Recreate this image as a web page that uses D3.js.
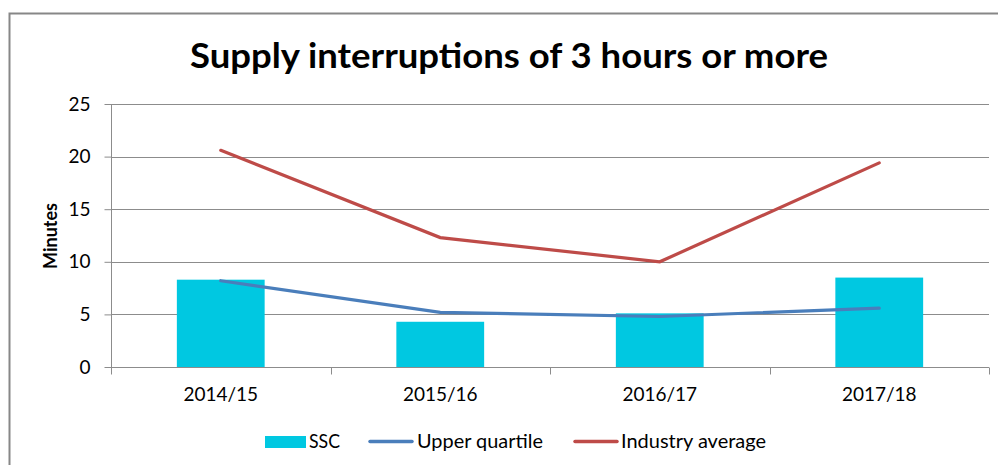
<!DOCTYPE html>
<html lang="en">
<head>
<meta charset="utf-8">
<title>Supply interruptions of 3 hours or more</title>
<style>
  body { margin: 0; background: #fff; }
  svg text { font-family: Lato, "Open Sans", sans-serif; fill: #000; }
  .grid line { stroke: #8c8c8c; stroke-width: 1; }
  .axis path, .axis line { stroke: #8c8c8c; }
</style>
</head>
<body>
<svg id="chart" width="998" height="465"></svg>
<script src="https://d3js.org/d3.v7.min.js"></script>
<script>

var years = ["2014/15", "2015/16", "2016/17", "2017/18"];
var ssc = [8.3, 4.3, 5.1, 8.5];
var upperQuartile = [8.2, 5.2, 4.8, 5.6];
var industryAverage = [20.6, 12.3, 10.0, 19.4];
var yTicks = [0, 5, 10, 15, 20, 25];

var barColor = "#00c8e1";
var blue = "#4a7ebb";
var red = "#be4b48";

var svg = d3.select("#chart");
var plotLeft = 111, plotRight = 989, plotTop = 104, plotBottom = 367;

// outer frame (right and bottom edges run off the picture)
svg.append("path")
   .attr("d", "M9.5,470V13.5H1005")
   .attr("fill", "none")
   .attr("stroke", "#878787")
   .attr("stroke-width", 2);

svg.append("text")
   .attr("x", 509)
   .attr("y", 68)
   .attr("text-anchor", "middle")
   .attr("font-size", 35)
   .attr("font-weight", "bold")
   .attr("textLength", 638)
   .attr("lengthAdjust", "spacingAndGlyphs")
   .text("Supply interruptions of 3 hours or more");

var x = d3.scaleBand().domain(years).range([plotLeft, plotRight]);
var y = d3.scaleLinear().domain([0, 25]).range([plotBottom, plotTop]);

// gridlines
svg.append("g").attr("class", "grid")
   .selectAll("line").data(yTicks.slice(1)).enter().append("line")
   .attr("x1", plotLeft).attr("x2", plotRight)
   .attr("y1", function(d) { return Math.round(y(d)) + 0.5; })
   .attr("y2", function(d) { return Math.round(y(d)) + 0.5; });

// y axis
var yAxis = svg.append("g").attr("class", "axis")
   .attr("transform", "translate(" + (plotLeft + 0.5) + ",0)")
   .call(d3.axisLeft(y).tickValues(yTicks).tickSize(7).tickPadding(14).tickSizeOuter(0));
yAxis.selectAll("text").attr("font-size", 19).attr("font-family", "Lato, sans-serif").attr("fill", "#222");
yAxis.select(".domain").attr("d", "M0," + (plotTop + 0.5) + "V" + (plotBottom + 0.5));

// x axis
var xAxis = svg.append("g").attr("class", "axis")
   .attr("transform", "translate(0," + (plotBottom + 0.5) + ")")
   .call(d3.axisBottom(x).tickSize(0).tickPadding(20));
xAxis.selectAll("text").attr("font-size", 19).attr("font-family", "Lato, sans-serif").attr("fill", "#222");
xAxis.select(".domain").attr("d", "M" + plotLeft + ",0H" + plotRight);
xAxis.selectAll(".bound").data(years.concat(["end"])).enter().append("line")
   .attr("class", "bound")
   .attr("x1", function(d, i) { return Math.round(plotLeft + i * x.step()) + 0.5; })
   .attr("x2", function(d, i) { return Math.round(plotLeft + i * x.step()) + 0.5; })
   .attr("y1", 0).attr("y2", 7)
   .attr("stroke", "#8c8c8c");

svg.append("text")
   .attr("transform", "translate(57,236) rotate(-90)")
   .attr("text-anchor", "middle")
   .attr("font-size", 18)
   .attr("font-weight", "bold")
   .text("Minutes");

// bars
var barW = x.bandwidth() * 0.4;
svg.append("g").selectAll("rect").data(ssc).enter().append("rect")
   .attr("x", function(d, i) { return x(years[i]) + x.bandwidth() / 2 - barW / 2; })
   .attr("y", function(d) { return y(d); })
   .attr("width", barW)
   .attr("height", function(d) { return y(0) - y(d); })
   .attr("fill", barColor);

var line = d3.line()
   .x(function(d, i) { return x(years[i]) + x.bandwidth() / 2; })
   .y(function(d) { return y(d); });

svg.append("path").datum(upperQuartile)
   .attr("d", line).attr("fill", "none")
   .attr("stroke", blue).attr("stroke-width", 3.2).attr("stroke-linecap", "round");

svg.append("path").datum(industryAverage)
   .attr("d", line).attr("fill", "none")
   .attr("stroke", red).attr("stroke-width", 3.2).attr("stroke-linecap", "round");

// legend
var legend = svg.append("g");
legend.append("rect").attr("x", 265).attr("y", 436).attr("width", 41).attr("height", 12).attr("fill", barColor);
legend.append("text").attr("x", 309).attr("y", 448).attr("font-size", 19)
   .attr("textLength", 31).attr("lengthAdjust", "spacingAndGlyphs").text("SSC");
legend.append("line").attr("x1", 370).attr("x2", 412).attr("y1", 441.5).attr("y2", 441.5)
   .attr("stroke", blue).attr("stroke-width", 3.5).attr("stroke-linecap", "round");
legend.append("text").attr("x", 417).attr("y", 448).attr("font-size", 19)
   .attr("textLength", 126).attr("lengthAdjust", "spacingAndGlyphs").text("Upper quartile");
legend.append("line").attr("x1", 575).attr("x2", 617).attr("y1", 441.5).attr("y2", 441.5)
   .attr("stroke", red).attr("stroke-width", 3.5).attr("stroke-linecap", "round");
legend.append("text").attr("x", 621).attr("y", 448).attr("font-size", 19)
   .attr("textLength", 145).attr("lengthAdjust", "spacingAndGlyphs").text("Industry average");

</script>
</body>
</html>
